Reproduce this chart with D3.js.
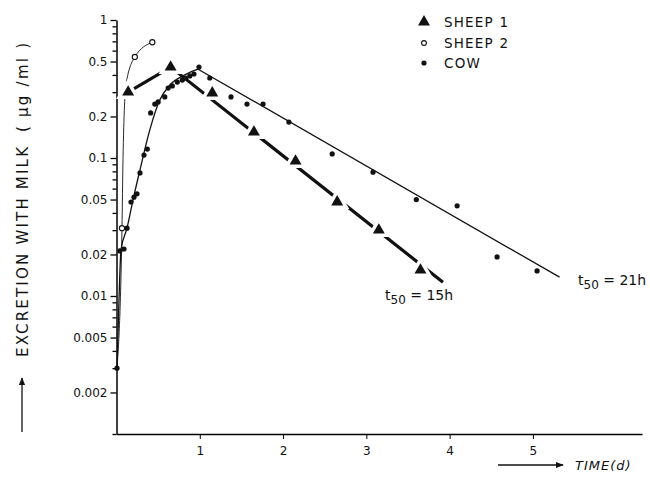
<!DOCTYPE html>
<html>
<head>
<meta charset="utf-8">
<script src="https://cdn.jsdelivr.net/npm/d3@7"></script>
<style>
  html, body { margin: 0; padding: 0; background: #fff; }
  svg { display: block; }
  text { font-family: "DejaVu Sans", "Liberation Sans", sans-serif; fill: #111; }
</style>
</head>
<body>
<svg id="chart" width="650" height="489"></svg>
<script>
// ---------- data ----------
const sheep1Time  = [0.14, 0.65, 1.15, 1.65, 2.15, 2.65, 3.15, 3.65];
const sheep1Value = [0.30, 0.456, 0.296, 0.154, 0.095, 0.048, 0.030, 0.0154];
const sheep1FitTime  = [0.14, 0.65, 3.92];
const sheep1FitValue = [0.30, 0.456, 0.0126];

const sheep2Time  = [0.066, 0.22, 0.43];
const sheep2Value = [0.031, 0.54, 0.69];
const sheep2FitTime  = [0.006, 0.066, 0.078, 0.114, 0.22, 0.43];
const sheep2FitValue = [0.003, 0.031, 0.097, 0.34, 0.54, 0.69];

const cowTime  = [0.006, 0.04, 0.09, 0.126, 0.174, 0.21, 0.246, 0.282, 0.33, 0.37, 0.41, 0.46, 0.50, 0.58, 0.62, 0.67, 0.73, 0.79, 0.83, 0.88, 0.93, 0.99, 1.12, 1.375, 1.567, 1.76, 2.07, 2.59, 3.08, 3.60, 4.09, 4.57, 5.05];
const cowValue = [0.0030, 0.0212, 0.0219, 0.031, 0.048, 0.052, 0.055, 0.078, 0.105, 0.116, 0.212, 0.246, 0.255, 0.277, 0.321, 0.333, 0.355, 0.367, 0.380, 0.393, 0.406, 0.456, 0.38, 0.277, 0.246, 0.246, 0.182, 0.107, 0.079, 0.050, 0.045, 0.0192, 0.0152];
const cowRiseTime  = [0.006, 0.03, 0.054, 0.126, 0.198, 0.282, 0.40, 0.52, 0.64, 0.82, 0.98];
const cowRiseValue = [0.003, 0.0094, 0.0216, 0.031, 0.0496, 0.082, 0.16, 0.263, 0.338, 0.40, 0.44];
const cowDeclineTime  = [0.98, 5.32];
const cowDeclineValue = [0.44, 0.0137];

const xTickValues = [1, 2, 3, 4, 5];
const xTickLabels = ["1", "2", "3", "4", "5"];
const yTickValues = [1, 0.5, 0.2, 0.1, 0.05, 0.02, 0.01, 0.005, 0.002];
const yTickLabels = ["1", "0.5", "0.2", "0.1", "0.05", "0.02", "0.01", "0.005", "0.002"];
const legendLabels = ["SHEEP 1", "SHEEP 2", "COW"];
const yTitle = "EXCRETION WITH MILK";
const yUnit = "( \u00B5g /ml )";
const xTitle = "TIME(d)";
const t50Labels = ["15h", "21h"];

// ---------- scales ----------
const svg = d3.select("#chart");
const x = d3.scaleLinear().domain([0, 6.31]).range([116.5, 642]);
const y = d3.scaleLog().domain([0.001, 1]).range([434, 20]);

const pts = (ts, vs) => ts.map((t, i) => [t, vs[i]]);
const line = d3.line().x(d => x(d[0])).y(d => y(d[1]));

// ---------- axes ----------
const minor = [];
[0.001, 0.01, 0.1].forEach(dec => { for (let k = 1; k <= 9; k++) minor.push(+(dec * k).toPrecision(3)); });
minor.push(1);

const yMinor = svg.append("g").attr("transform", `translate(${x(0)},0)`)
  .call(d3.axisLeft(y).tickValues(minor.filter(v => !yTickValues.includes(v))).tickSize(4).tickSizeOuter(0).tickFormat(""));
yMinor.select(".domain").remove();
yMinor.selectAll("line").attr("stroke-width", 1.3);

const yAx = svg.append("g").attr("transform", `translate(${x(0)},0)`)
  .call(d3.axisLeft(y).tickValues(yTickValues).tickSize(6).tickSizeOuter(0).tickPadding(3)
    .tickFormat((d, i) => yTickLabels[i]));
yAx.select(".domain").attr("stroke-width", 1.5);
yAx.selectAll("line").attr("stroke-width", 1.3);
yAx.selectAll("text").style("font-size", "12px").attr("fill", "#111");

const xAx = svg.append("g").attr("transform", `translate(0,${y(0.001)})`)
  .call(d3.axisBottom(x).tickValues(xTickValues).tickSize(5).tickSizeOuter(0).tickPadding(7)
    .tickFormat((d, i) => xTickLabels[i]));
xAx.select(".domain").attr("stroke-width", 1.5);
xAx.selectAll("text").style("font-size", "12px").attr("fill", "#111");

// ---------- lines ----------
svg.append("path").datum(pts(cowRiseTime, cowRiseValue))
  .attr("d", line.curve(d3.curveMonotoneX)).attr("fill", "none").attr("stroke", "#111").attr("stroke-width", 1.3);
svg.append("path").datum(pts(cowDeclineTime, cowDeclineValue))
  .attr("d", d3.line().x(d => x(d[0])).y(d => y(d[1]))).attr("fill", "none").attr("stroke", "#111").attr("stroke-width", 1.3);

svg.append("path").datum(pts(sheep2FitTime, sheep2FitValue))
  .attr("d", d3.line().x(d => x(d[0])).y(d => y(d[1])).curve(d3.curveMonotoneX))
  .attr("fill", "none").attr("stroke", "#111").attr("stroke-width", 0.9);

svg.append("path").datum(pts(sheep1FitTime, sheep1FitValue))
  .attr("d", d3.line().x(d => x(d[0])).y(d => y(d[1])))
  .attr("fill", "none").attr("stroke", "#111").attr("stroke-width", 3.2);

// ---------- markers ----------
const tri = d3.symbol().type(d3.symbolTriangle).size(62);
svg.append("g").selectAll("path").data(pts(sheep1Time, sheep1Value)).join("path")
  .attr("d", tri).attr("transform", d => `translate(${x(d[0])},${y(d[1])})`)
  .attr("fill", "#111").attr("stroke", "#fff").attr("stroke-width", 7)
  .style("paint-order", "stroke");

svg.append("g").selectAll("circle").data(pts(cowTime, cowValue)).join("circle")
  .attr("cx", d => x(d[0])).attr("cy", d => y(d[1])).attr("r", 2.6).attr("fill", "#111");

svg.append("g").selectAll("circle").data(pts(sheep2Time, sheep2Value)).join("circle")
  .attr("cx", d => x(d[0])).attr("cy", d => y(d[1])).attr("r", 2.6)
  .attr("fill", "#fff").attr("stroke", "#111").attr("stroke-width", 1.1);

// ---------- legend ----------
const lg = svg.append("g");
const lgY = [22, 43, 63];
lg.append("path").attr("d", tri).attr("transform", `translate(424,${lgY[0]})`).attr("fill", "#111");
lg.append("circle").attr("cx", 424).attr("cy", lgY[1]).attr("r", 2.4).attr("fill", "#fff").attr("stroke", "#111").attr("stroke-width", 1.1);
lg.append("circle").attr("cx", 424).attr("cy", lgY[2]).attr("r", 2.6).attr("fill", "#111");
lg.selectAll("text").data(legendLabels).join("text")
  .attr("x", 444).attr("y", (d, i) => lgY[i]).attr("dy", "0.36em")
  .style("font-size", "13.5px").style("letter-spacing", "1.2px").text(d => d);

// ---------- t50 labels ----------
const t50Pos = [[385, 300], [578, 285]];
t50Labels.forEach((l, i) => {
  const t = svg.append("text").attr("x", t50Pos[i][0]).attr("y", t50Pos[i][1]).style("font-size", "14px");
  t.append("tspan").text("t");
  t.append("tspan").attr("dy", 4).style("font-size", "12px").text("50");
  t.append("tspan").attr("dy", -4).text(" = " + l);
});

// ---------- axis titles ----------
svg.append("text").attr("transform", "translate(28,357) rotate(-90)")
  .attr("text-anchor", "start").style("font-size", "15px")
  .attr("textLength", 210).attr("lengthAdjust", "spacing").text(yTitle);
svg.append("text").attr("transform", "translate(28,132) rotate(-90)")
  .attr("text-anchor", "start").style("font-size", "15px")
  .attr("textLength", 89).attr("lengthAdjust", "spacing").text(yUnit);

// arrows
svg.append("defs").append("marker").attr("id", "ah").attr("viewBox", "0 0 10 10")
  .attr("refX", 9).attr("refY", 5).attr("markerWidth", 8).attr("markerHeight", 8)
  .attr("markerUnits", "userSpaceOnUse").attr("orient", "auto")
  .append("path").attr("d", "M0,1 L10,5 L0,9 Z").attr("fill", "#111");
svg.append("line").attr("x1", 22).attr("y1", 432).attr("x2", 22).attr("y2", 378)
  .attr("stroke", "#111").attr("stroke-width", 1.3).attr("marker-end", "url(#ah)");
svg.append("line").attr("x1", 498).attr("y1", 465).attr("x2", 563).attr("y2", 465)
  .attr("stroke", "#111").attr("stroke-width", 1.3).attr("marker-end", "url(#ah)");
svg.append("text").attr("x", 575).attr("y", 465).attr("dy", "0.36em")
  .style("font-size", "13px").style("font-style", "italic").style("letter-spacing", "1px").text(xTitle);
</script>
</body>
</html>
